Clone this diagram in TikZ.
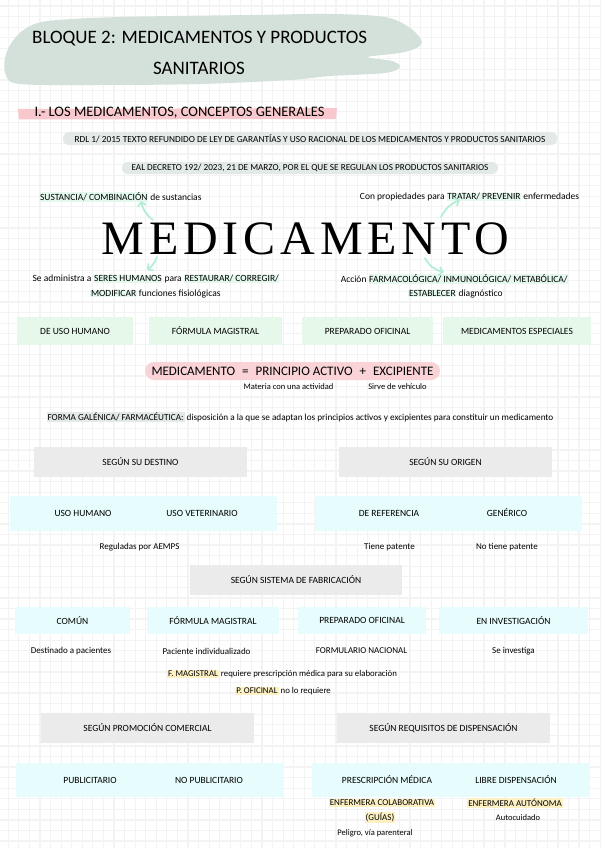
\documentclass[tikz,border=0pt]{standalone}
\usepackage{fontspec}
\setmainfont{Carlito}
\newfontfamily\hand{Carlito}
\newfontfamily\bigserif[LetterSpace=10]{Liberation Serif}
\usetikzlibrary{arrows.meta,calc}
\definecolor{gridc}{HTML}{F3F3F3}
\definecolor{blobc}{HTML}{D3E1DA}
\definecolor{pillc}{HTML}{E3E9E6}
\definecolor{pinkc}{HTML}{F9C8CD}
\definecolor{pinkpill}{HTML}{FAD3D6}
\definecolor{greenbox}{HTML}{E6F8EA}
\definecolor{cyanbox}{HTML}{E7FCFC}
\definecolor{graybox}{HTML}{EBEBEB}
\definecolor{mintarrow}{HTML}{B5EED6}
\definecolor{minthl}{HTML}{E4F8EE}
\definecolor{yellowhl}{HTML}{FDF1C4}
\newcommand{\setfs}[1]{\fontsize{#1}{#1}\selectfont}
\newcommand{\hlg}[1]{{\setlength{\fboxsep}{0.6pt}\colorbox{minthl}{#1}}}
\newcommand{\hly}[1]{{\setlength{\fboxsep}{1.2pt}\colorbox{yellowhl}{#1}}}
\newcommand{\hlgray}[1]{{\setlength{\fboxsep}{1pt}\colorbox{pillc}{#1}}}
\begin{document}
\begin{tikzpicture}[x=1pt,y=-1pt,
  txt/.style={font=\hand\setfs{9.5}, inner sep=0pt},
  gbox/.style={fill=graybox, minimum width=213pt, minimum height=30pt, inner sep=0pt, font=\hand\setfs{9.5}},
  grbox/.style={fill=greenbox, minimum height=28pt, inner sep=0pt, font=\hand\setfs{9.5}},
  cbox/.style={fill=cyanbox, inner sep=0pt, font=\hand\setfs{9.5}},
  pill/.style={fill=pillc, rounded corners=6pt, inner sep=0pt, font=\hand\setfs{9}},
  arr/.style={draw=mintarrow, line width=1.8pt, line cap=round,
     -{Straight Barb[length=3.5pt,width=8pt,line cap=round]}}]
\useasboundingbox (0,0) rectangle (600,848);
\fill[white] (0,0) rectangle (600,848);
% grid
\foreach \i in {0,...,56} \draw[gridc, line width=1.2pt] ({8.3+\i*10.57},0) -- ++(0,848);
\foreach \i in {0,...,80} \draw[gridc, line width=1.2pt] (0,{6+\i*10.57}) -- ++(600,0);

% title blob
\fill[blobc] plot[smooth cycle, tension=0.55] coordinates {(12,42) (25,29) (48,21) (120,17) (250,15) (330,14) (385,17) (410,28) (422,43) (405,52) (368,57) (392,61) (400,67) (385,73) (330,76) (290,80) (200,84) (100,85) (20,84) (6,75) (5,58)};
\node[anchor=west, inner sep=0pt, font=\hand\setfs{19}] (title1) at (32,38.5) {BLOQUE 2: MEDICAMENTOS Y PRODUCTOS};
\node[inner sep=0pt, font=\hand\setfs{19}] (title2) at (199,68.5) {SANITARIOS};

% section header
\fill[pinkc] (18,109) -- (337,108) -- (336,119) -- (19,119.5) -- cycle;
\node[inner sep=0pt, font=\hand\setfs{14.5}] (header) at (179.5,113) {I.- LOS MEDICAMENTOS, CONCEPTOS GENERALES};

% pills
\node[pill, minimum width=494pt, minimum height=13pt, font=\hand\setfs{9.3}] (rdl) at (310,138.5) {RDL 1/ 2015 TEXTO REFUNDIDO DE LEY DE GARANTÍAS Y USO RACIONAL DE LOS MEDICAMENTOS Y PRODUCTOS SANITARIOS};
\node[pill, minimum width=376pt, minimum height=12pt, font=\hand\setfs{9.2}] (eal) at (310,168) {EAL DECRETO 192/ 2023, 21 DE MARZO, POR EL QUE SE REGULAN LOS PRODUCTOS SANITARIOS};

% MEDICAMENTO and annotations
\node[anchor=base, inner sep=0pt, font=\bigserif\setfs{48}] (med) at (305.5,254) {MEDICAMENTO};
\node[txt] (sust) at (120.5,197) {\hlg{SUSTANCIA/ COMBINACIÓN} de sustancias};
\node[txt] (prop) at (469.5,197) {Con propiedades para \hlg{TRATAR/ PREVENIR} enfermedades};
\node[txt] (adm1) at (156,279) {Se administra a \hlg{SERES HUMANOS} para \hlg{RESTAURAR/ CORREGIR/}};
\node[txt] (adm2) at (155.5,294) {\hlg{MODIFICAR} funciones fisiológicas};
\node[txt] (acc1) at (454.5,279) {Acción \hlg{FARMACOLÓGICA/ INMUNOLÓGICA/ METABÓLICA/}};
\node[txt] (acc2) at (455.5,294) {\hlg{ESTABLECER} diagnóstico};

\coordinate (a1s) at (153,220); \coordinate (a1e) at (141,201);
\coordinate (a2s) at (441,217); \coordinate (a2e) at (460,200);
\coordinate (a3s) at (157,257); \coordinate (a3e) at (147,270);
\coordinate (a4s) at (425,258); \coordinate (a4e) at (444,272);
\draw[arr] (a1s) to[bend left=20] (a1e);
\draw[arr] (a2s) to[bend left=20] (a2e);
\draw[arr] (a3s) to[bend left=15] (a3e);
\draw[arr] (a4s) to[bend right=25] (a4e);

% green boxes
\node[grbox, minimum width=116pt] (g1) at (75,331) {DE USO HUMANO};
\node[grbox, minimum width=133pt] (g2) at (215.5,331) {FÓRMULA MAGISTRAL};
\node[grbox, minimum width=131pt] (g3) at (367.5,331) {PREPARADO OFICINAL};
\node[grbox, minimum width=148pt] (g4) at (517,331) {MEDICAMENTOS ESPECIALES};

% equation
\node[fill=pinkpill, rounded corners=9pt, minimum width=295pt, minimum height=18pt, inner sep=0pt, font=\hand\setfs{13}] (eq) at (292.5,371) {MEDICAMENTO\hspace{7pt}=\hspace{7pt}PRINCIPIO ACTIVO\hspace{7pt}+\hspace{7pt}EXCIPIENTE};
\node[txt, font=\hand\setfs{8.5}] (materia) at (288.5,387) {Materia con una actividad};
\node[txt, font=\hand\setfs{8.5}] (sirve) at (397.5,387) {Sirve de vehículo};
\node[txt, font=\hand\setfs{9.2}] (forma) at (300,417) {\hlgray{FORMA GALÉNICA/ FARMACÉUTICA:} disposición a la que se adaptan los principios activos y excipientes para constituir un medicamento};

% destino / origen
\node[gbox] (destino) at (140.5,462) {SEGÚN SU DESTINO};
\node[gbox] (origen) at (445.5,462) {SEGÚN SU ORIGEN};
\node[cbox, minimum width=267pt, minimum height=35pt] (destbox) at (143.5,513.5) {};
\node[cbox, minimum width=267pt, minimum height=35pt] (origbox) at (448.5,513.5) {};
\node[txt] (usohum) at (83,513) {USO HUMANO};
\node[txt] (usovet) at (202,513) {USO VETERINARIO};
\node[txt] (deref) at (389,513) {DE REFERENCIA};
\node[txt] (generico) at (507,513) {GENÉRICO};
\node[txt, font=\hand\setfs{9}] (reguladas) at (139.5,547) {Reguladas por AEMPS};
\node[txt, font=\hand\setfs{9}] (tiene) at (389.5,547) {Tiene patente};
\node[txt, font=\hand\setfs{9}] (notiene) at (507,547) {No tiene patente};

% fabricacion
\node[gbox, minimum width=212pt] (fabric) at (296,580) {SEGÚN SISTEMA DE FABRICACIÓN};
\node[cbox, minimum width=115pt, minimum height=27pt] (c1) at (72.5,620.5) {COMÚN};
\node[cbox, minimum width=132pt, minimum height=27pt] (c2) at (213,620.5) {FÓRMULA MAGISTRAL};
\node[cbox, minimum width=128pt, minimum height=27pt] (c3) at (362,620.5) {PREPARADO OFICINAL};
\node[cbox, minimum width=149pt, minimum height=27pt] (c4) at (513.5,620.5) {EN INVESTIGACIÓN};
\node[txt, font=\hand\setfs{9}] (destinado) at (71,651) {Destinado a pacientes};
\node[txt, font=\hand\setfs{9}] (paciente) at (206.5,651) {Paciente individualizado};
\node[txt, font=\hand\setfs{9}] (formulario) at (361.5,651) {FORMULARIO NACIONAL};
\node[txt, font=\hand\setfs{9}] (seinv) at (513.5,651) {Se investiga};
\node[txt, font=\hand\setfs{8.8}] (fmag) at (282,674) {\hly{F. MAGISTRAL} requiere prescripción médica para su elaboración};
\node[txt, font=\hand\setfs{8.8}] (pofi) at (283,691) {\hly{P. OFICINAL} no lo requiere};

% promocion / dispensacion
\node[gbox] (promo) at (147.5,728) {SEGÚN PROMOCIÓN COMERCIAL};
\node[gbox] (requis) at (443.5,728) {SEGÚN REQUISITOS DE DISPENSACIÓN};
\node[cbox, minimum width=268pt, minimum height=34pt] (promobox) at (150,780) {};
\node[cbox, minimum width=278pt, minimum height=34pt] (dispbox) at (451,780) {};
\node[txt] (publi) at (90,780) {PUBLICITARIO};
\node[txt] (nopubli) at (209,780) {NO PUBLICITARIO};
\node[txt] (prescr) at (387,780) {PRESCRIPCIÓN MÉDICA};
\node[txt] (libre) at (516,780) {LIBRE DISPENSACIÓN};
\node[txt, font=\hand\setfs{9}] (enfcol) at (382,803) {\hly{ENFERMERA COLABORATIVA}};
\node[txt, font=\hand\setfs{9}] (guias) at (380,817.5) {\hly{(GUÍAS)}};
\node[txt, font=\hand\setfs{8.5}] (peligro) at (375,833) {Peligro, vía parenteral};
\node[txt, font=\hand\setfs{9}] (enfaut) at (515,803) {\hly{ENFERMERA AUTÓNOMA}};
\node[txt, font=\hand\setfs{8.5}] (autoc) at (518,817.5) {Autocuidado};
\end{tikzpicture}
\end{document}
